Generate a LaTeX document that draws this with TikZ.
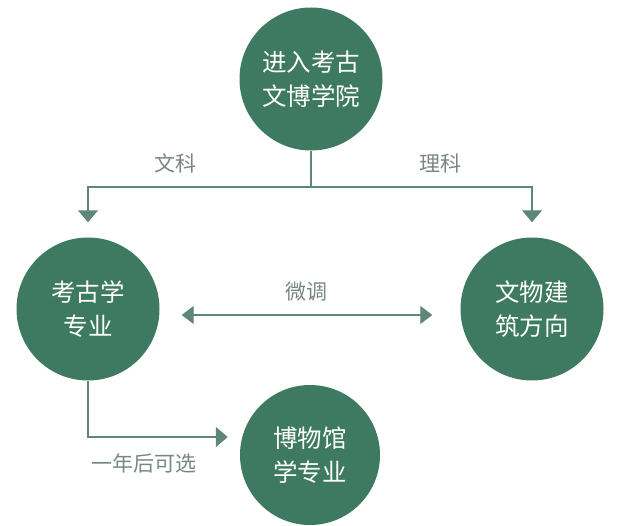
\documentclass[tikz,border=0pt]{standalone}
\usepackage{fontspec}
\setmainfont{Noto Sans CJK SC}
\usetikzlibrary{arrows.meta}
\definecolor{kgreen}{RGB}{62,122,98}
\definecolor{kline}{RGB}{95,135,120}
\definecolor{ktext}{RGB}{120,135,130}
\begin{document}
\begin{tikzpicture}[x=1pt,y=-1pt,
    bubble/.style={circle,fill=kgreen,minimum size=143pt,inner sep=0pt,
        text=white,align=center,font=\fontsize{24.5}{34}\selectfont},
    link/.style={kline,line width=1.2pt},
    tip/.style={-{Triangle[width=20pt,length=12pt]}},
    lbl/.style={text=ktext,font=\fontsize{21}{24}\selectfont}]
    \useasboundingbox (0,0) rectangle (640,526);
    \node[bubble] (yuan) at (311,79) {进入考古\\文博学院};
    \node[bubble] (kaogu) at (88,309) {考古学\\专业};
    \node[bubble] (wenwu) at (532,309) {文物建\\筑方向};
    \node[bubble,minimum size=140pt] (bowu) at (310,455) {博物馆\\学专业};
    \coordinate (fork) at (311,187);
    \draw[link] (yuan) -- (fork);
    \draw[link,tip,shorten >=15pt] (fork) -| (kaogu);
    \draw[link,tip,shorten >=15pt] (fork) -| (wenwu);
    \draw[link,{Triangle[width=18pt,length=12pt]}-{Triangle[width=18pt,length=12pt]}]
        ([shift={(22,6)}]kaogu.east) -- ([shift={(-28,6)}]wenwu.west);
    \draw[link,tip] (kaogu) |- ([shift={(-12,-18)}]bowu.west);
    \node[lbl] (wenke) at (175,163) {文科};
    \node[lbl] (like) at (440,163) {理科};
    \node[lbl] (weitiao) at (306,292) {微调};
    \node[lbl] (yinian) at (144,463) {一年后可选};
\end{tikzpicture}
\end{document}
